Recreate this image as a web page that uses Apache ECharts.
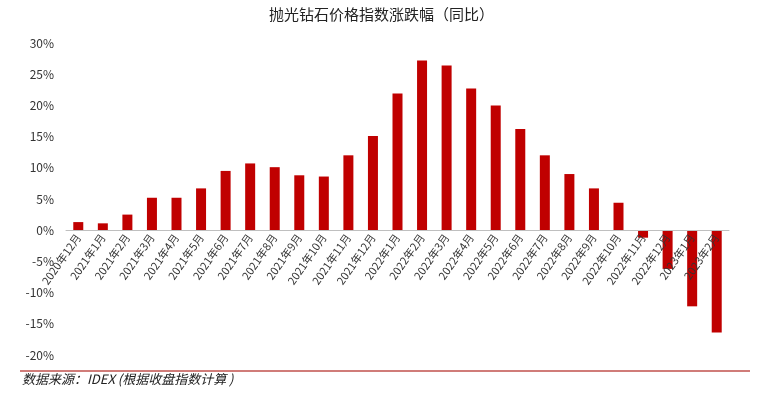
<!DOCTYPE html>
<html><head><meta charset="utf-8">
<script src="https://cdn.jsdelivr.net/npm/echarts@6/dist/echarts.min.js"></script>
<style>html,body{margin:0;padding:0;background:#fff}#c{width:763px;height:393px}</style>
</head><body><div id="c"></div>
<script>
const categories = ['2020年12月','2021年1月','2021年2月','2021年3月','2021年4月','2021年5月','2021年6月','2021年7月','2021年8月','2021年9月','2021年10月','2021年11月','2021年12月','2022年1月','2022年2月','2022年3月','2022年4月','2022年5月','2022年6月','2022年7月','2022年8月','2022年9月','2022年10月','2022年11月','2022年12月','2023年1月','2023年2月'];
const values = [1.3,1.1,2.5,5.2,5.2,6.7,9.5,10.7,10.1,8.8,8.6,12.0,15.1,21.9,27.2,26.4,22.7,20.0,16.2,12.0,9.0,6.7,4.4,-1.2,-6.2,-12.2,-16.4];
const yTicks = {min:-20, max:30, interval:5};
const titleText = '抛光钻石价格指数涨跌幅（同比）';
const sourceText = '数据来源：IDEX (根据收盘指数计算 )';

const FONT = '"Noto Sans CJK SC", "Noto Sans", sans-serif';
const gridTop = 43, gridH = 312;
const zeroOffset = -gridH * (0 - yTicks.min) / (yTicks.max - yTicks.min);
const chart = echarts.init(document.getElementById('c'));
chart.setOption({
  animation:false,
  textStyle:{fontFamily:FONT},
  title:{text:titleText,left:'center',top:2,textStyle:{fontSize:15,fontWeight:'normal',color:'#222',fontFamily:FONT}},
  grid:{left:66,width:663,top:gridTop,height:gridH,containLabel:false,outerBoundsMode:'none'},
  xAxis:{type:'category',data:categories,position:'bottom',offset:zeroOffset,zlevel:1,z:5,
    axisLine:{onZero:false,lineStyle:{color:'#bfbfbf',width:1}},
    axisTick:{show:false},
    axisLabel:{interval:0,rotate:55,fontSize:11,color:'#333',margin:5,fontFamily:FONT}},
  yAxis:{type:'value',min:yTicks.min,max:yTicks.max,interval:yTicks.interval,
    axisLine:{show:false},axisTick:{show:false},splitLine:{show:false},
    axisLabel:{formatter:'{value}%',fontSize:12,color:'#333',margin:12,fontFamily:FONT}},
  series:[{type:'bar',data:values,barWidth:10,z:2,itemStyle:{color:'#C00000'}}],
  graphic:[
    {type:'line',shape:{x1:20,y1:371,x2:750,y2:371},style:{stroke:'#c0504d',lineWidth:1.5}},
    {type:'text',left:22,top:373,style:{text:sourceText,fill:'#222',font:'italic 13px '+FONT}}
  ]
});
</script></body></html>
